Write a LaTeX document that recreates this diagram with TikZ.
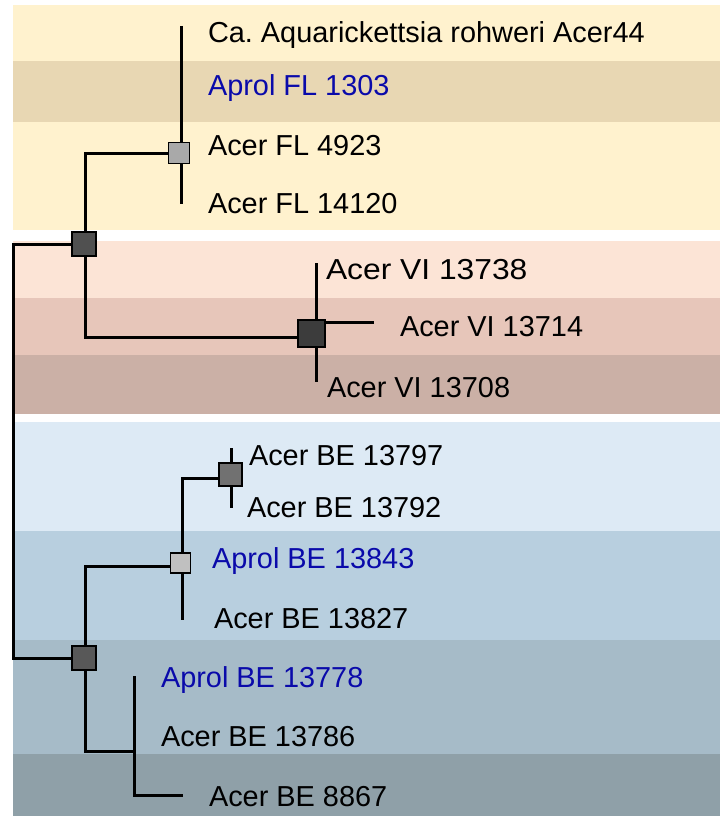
\documentclass[tikz,border=0pt]{standalone}
\usepackage{fontspec}
\setmainfont{Liberation Sans}
\frenchspacing
\definecolor{yA}{HTML}{FFF2CE}
\definecolor{yB}{HTML}{E8D7B3}
\definecolor{pA}{HTML}{FCE4D6}
\definecolor{pB}{HTML}{E7C6BA}
\definecolor{pC}{HTML}{CBB0A6}
\definecolor{bA}{HTML}{DDEAF5}
\definecolor{bB}{HTML}{B8CFDF}
\definecolor{bC}{HTML}{A6BBC8}
\definecolor{bD}{HTML}{8FA0A8}
\definecolor{aprol}{HTML}{0A0AAA}
\definecolor{gA}{HTML}{505050}
\definecolor{gB}{HTML}{A9A9A9}
\definecolor{gC}{HTML}{3C3C3C}
\definecolor{gD}{HTML}{585858}
\definecolor{gE}{HTML}{C0C0C0}
\definecolor{gF}{HTML}{717171}
\begin{document}
\begin{tikzpicture}[x=1bp,y=-1bp,
  br/.style={line width=3bp, black, line join=miter},
  nd/.style={draw=black, line width=1.2bp, rectangle, minimum size=#1, inner sep=0pt, outer sep=0pt},
  lab/.style={anchor=base west, inner sep=0pt, outer sep=0pt, font=\fontsize{29}{34}\selectfont, text=black},
  alab/.style={lab, text=aprol}]
\useasboundingbox (0,0) rectangle (720,816);
% bands
\fill[yA] (13,5) rectangle (720,230);
\fill[yB] (13,61) rectangle (720,122);
\fill[pA] (13,241) rectangle (720,298);
\fill[pB] (13,298) rectangle (720,355);
\fill[pC] (13,355) rectangle (720,414);
\fill[bA] (13,422) rectangle (720,531);
\fill[bB] (13,531) rectangle (720,640);
\fill[bC] (13,640) rectangle (720,754);
\fill[bD] (13,754) rectangle (720,816);
% coordinates
\coordinate (R) at (13,244);
\coordinate (Rb) at (13,658);
\coordinate (A) at (85,244);
\coordinate (B) at (181,153);
\coordinate (Cin) at (311,337);
\coordinate (Btop) at (181,26);
\coordinate (Bbot) at (181,204);
\coordinate (Ctop) at (316,263);
\coordinate (Cbot) at (316,382);
\coordinate (Cr0) at (316,322);
\coordinate (Cr) at (374,322);
\coordinate (D) at (85,658);
\coordinate (E) at (182,566);
\coordinate (G) at (134,751);
\coordinate (F) at (231,478);
\coordinate (Ebot) at (182,620);
\coordinate (Ftop) at (231,448);
\coordinate (Fbot) at (231,508);
\coordinate (Gtop) at (134,676);
\coordinate (Gend) at (183,795);
% branches
\draw[br] (A) -- (R) -- (Rb) -- (D);
\draw[br] (B) -| (A) |- (Cin);
\draw[br] (Btop) -- (Bbot);
\draw[br] (Ctop) -- (Cbot);
\draw[br] (Cr0) -- (Cr);
\draw[br] (E) -| (D) |- (G);
\draw[br] (F) -| (Ebot);
\draw[br] (Ftop) -- (Fbot);
\draw[br] (Gtop) |- (Gend);
% nodes (support boxes)
\node[nd=24bp, fill=gA] (nA) at (84,244) {};
\node[nd=21bp, fill=gB] (nB) at (179,153) {};
\node[nd=27bp, fill=gC] (nC) at (311.5,333.5) {};
\node[nd=24bp, fill=gD] (nD) at (84,658) {};
\node[nd=20bp, fill=gE] (nE) at (180.5,563) {};
\node[nd=23bp, fill=gF] (nF) at (230.5,474.5) {};
% labels
\node[lab] (l1) at (208,43) {Ca. Aquarickettsia rohweri Acer44};
\node[alab] (l2) at (208,95) {Aprol FL 1303};
\node[lab] (l3) at (208,155.5) {Acer FL 4923};
\node[lab] (l4) at (208,213) {Acer FL 14120};
\node[lab] (l5) at (326,279) {\scalebox{1.1}[1]{Acer VI 13738}};
\node[lab] (l6) at (400,336) {Acer VI 13714};
\node[lab] (l7) at (327,397) {Acer VI 13708};
\node[lab] (l8) at (249,465) {Acer BE 13797};
\node[lab] (l9) at (247,517) {Acer BE 13792};
\node[alab] (l10) at (212,568) {Aprol BE 13843};
\node[lab] (l11) at (214,628) {Acer BE 13827};
\node[alab] (l12) at (161,687) {Aprol BE 13778};
\node[lab] (l13) at (161,746) {Acer BE 13786};
\node[lab] (l14) at (209,806) {Acer BE 8867};
\end{tikzpicture}
\end{document}
